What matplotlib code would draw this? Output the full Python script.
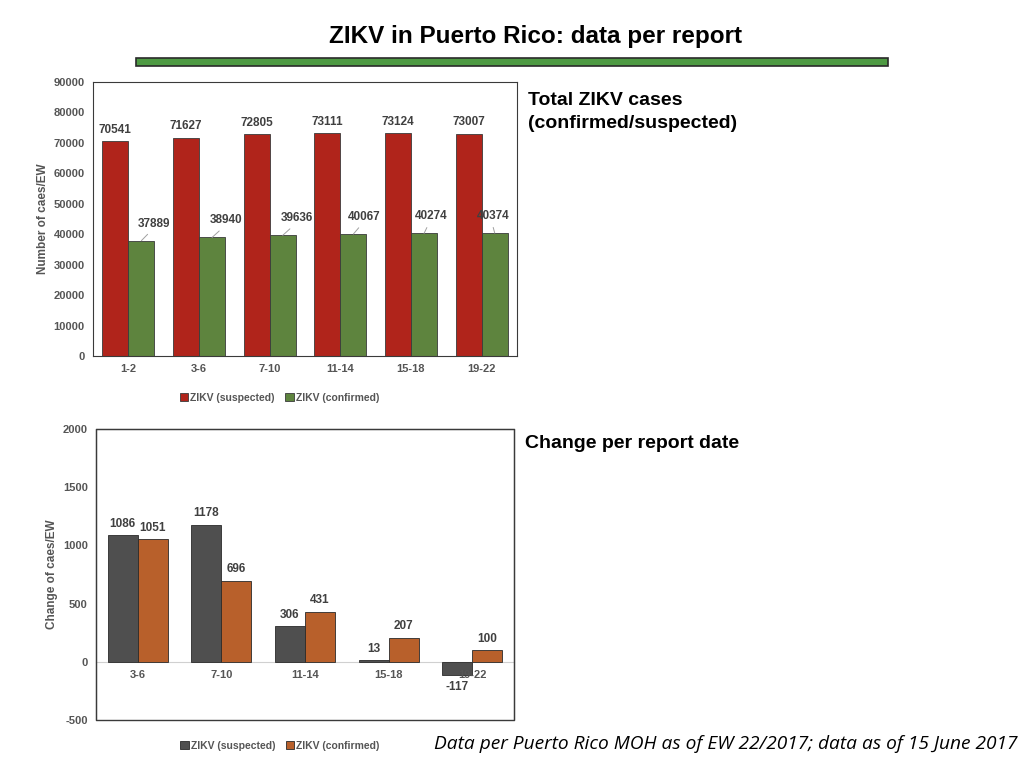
import matplotlib.pyplot as plt
import numpy as np
from matplotlib.patches import Rectangle

plt.rcParams["font.family"] = ["Liberation Sans", "DejaVu Sans"]
plt.rcParams["axes.unicode_minus"] = False

# total cases per report
groups_total = ["1-2", "3-6", "7-10", "11-14", "15-18", "19-22"]
suspected_total = [70541, 71627, 72805, 73111, 73124, 73007]
confirmed_total = [37889, 38940, 39636, 40067, 40274, 40374]

# change per report date
groups_change = ["3-6", "7-10", "11-14", "15-18", "19-22"]
suspected_change = [1086, 1178, 306, 13, -117]
confirmed_change = [1051, 696, 431, 207, 100]

red = "#b0241b"
green = "#5e843e"
dark = "#4f4f4f"
orange = "#b8602b"
txt = "#404040"
tick_gray = "#555555"

fig = plt.figure(figsize=(10.24, 7.68), dpi=100)

fig.text(0.523, 0.952, "ZIKV in Puerto Rico: data per report", ha="center", va="center",
         fontsize=17.5, fontweight="bold")
fig.patches.append(Rectangle((136 / 1024, 1 - 66 / 768), 752 / 1024, 8 / 768,
                             transform=fig.transFigure, facecolor="#4e9a43",
                             edgecolor="#2a2a2a", lw=1.2))

fig.text(528 / 1024, 1 - 112 / 768, "Total ZIKV cases\n(confirmed/suspected)", ha="left",
         va="center", fontsize=14, fontweight="bold", linespacing=1.4)
fig.text(525 / 1024, 1 - 444 / 768, "Change per report date", ha="left", va="center",
         fontsize=14, fontweight="bold")
fig.text(1018 / 1024, 1 - 744 / 768,
         "Data per Puerto Rico MOH as of EW 22/2017; data as of 15 June 2017",
         ha="right", va="center", fontsize=13.8, style="italic", family="Open Sans")

w = 0.37

# ---- top chart ----
ax1 = fig.add_axes([93 / 1024, 1 - 356 / 768, 424 / 1024, 274 / 768])
x = np.arange(len(groups_total))
ax1.bar(x - w / 2, suspected_total, w, color=red, edgecolor="#3a3a3a", lw=0.6,
        label="ZIKV (suspected)")
ax1.bar(x + w / 2, confirmed_total, w, color=green, edgecolor="#3a3a3a", lw=0.6,
        label="ZIKV (confirmed)")
ax1.set_xlim(-0.5, len(groups_total) - 0.5)
ax1.set_ylim(0, 90000)
ax1.set_yticks(np.arange(0, 90001, 10000))
ax1.set_xticks(x)
ax1.set_xticklabels(groups_total)
ax1.set_ylabel("Number of caes/EW", fontsize=8.5, fontweight="bold", color=tick_gray, labelpad=3)

label_dx = [9, 10, 10, 8, 5, -1]
for i, v in enumerate(suspected_total):
    ax1.annotate(str(v), (x[i] - w / 2, v), xytext=(0, 4), textcoords="offset points",
                 ha="center", va="bottom", fontsize=8.5, fontweight="bold", color=txt)
for i, v in enumerate(confirmed_total):
    ax1.annotate(str(v), (x[i] + w / 2, v), xytext=(label_dx[i], 8), textcoords="offset points",
                 ha="center", va="bottom", fontsize=8.5, fontweight="bold", color=txt,
                 arrowprops=dict(arrowstyle="-", color="#a0a0a0", lw=0.7,
                                 shrinkA=2, shrinkB=0, relpos=(0.45, 0)))

leg1 = ax1.legend(loc="upper center", bbox_to_anchor=(0.44, -0.1), ncol=2, frameon=False,
                  handlelength=0.8, handleheight=0.8, handletextpad=0.2,
                  columnspacing=1.0, prop={"weight": "bold", "size": 7.5})
for t in leg1.get_texts():
    t.set_color(tick_gray)

# ---- bottom chart ----
ax2 = fig.add_axes([96 / 1024, 1 - 720 / 768, 418 / 1024, 291 / 768])
x2 = np.arange(len(groups_change))
w2 = 0.36
ax2.bar(x2 - w2 / 2, suspected_change, w2, color=dark, edgecolor="#2a2a2a", lw=0.6,
        label="ZIKV (suspected)")
ax2.bar(x2 + w2 / 2, confirmed_change, w2, color=orange, edgecolor="#2a2a2a", lw=0.6,
        label="ZIKV (confirmed)")
ax2.set_xlim(-0.5, len(groups_change) - 0.5)
ax2.set_ylim(-500, 2000)
ax2.set_yticks(np.arange(-500, 2001, 500))
ax2.set_xticks(x2)
ax2.set_xticklabels(groups_change)
ax2.spines["bottom"].set_position(("data", 0))
ax2.spines["bottom"].set_color("#d0d0d0")
ax2.spines["bottom"].set_zorder(0)
ax2.add_patch(Rectangle((0, 0), 1, 1, transform=ax2.transAxes, fill=False,
                        edgecolor="#3a3a3a", lw=1.0, clip_on=False, zorder=5))
ax2.set_ylabel("Change of caes/EW", fontsize=8.5, fontweight="bold", color=tick_gray, labelpad=3)

for i, v in enumerate(suspected_change):
    off = 4 if v >= 0 else -4
    ax2.annotate(str(v), (x2[i] - w2 / 2, v), xytext=(0, off), textcoords="offset points",
                 ha="center", va="bottom" if v >= 0 else "top", fontsize=8.5,
                 fontweight="bold", color=txt)
for i, v in enumerate(confirmed_change):
    ax2.annotate(str(v), (x2[i] + w2 / 2, v), xytext=(0, 4), textcoords="offset points",
                 ha="center", va="bottom", fontsize=8.5, fontweight="bold", color=txt)

leg2 = ax2.legend(loc="upper center", bbox_to_anchor=(0.44, -0.04), ncol=2, frameon=False,
                  handlelength=0.8, handleheight=0.8, handletextpad=0.2,
                  columnspacing=1.0, prop={"weight": "bold", "size": 7.5})
for t in leg2.get_texts():
    t.set_color(tick_gray)

for ax in (ax1, ax2):
    for s in ["top", "left", "right"]:
        ax.spines[s].set_color("#3a3a3a")
    ax.tick_params(length=0, labelsize=8, labelcolor=tick_gray, pad=6)
    for lab in ax.get_xticklabels() + ax.get_yticklabels():
        lab.set_fontweight("bold")
ax1.spines["bottom"].set_color("#3a3a3a")

fig.savefig("out.png", dpi=100)
